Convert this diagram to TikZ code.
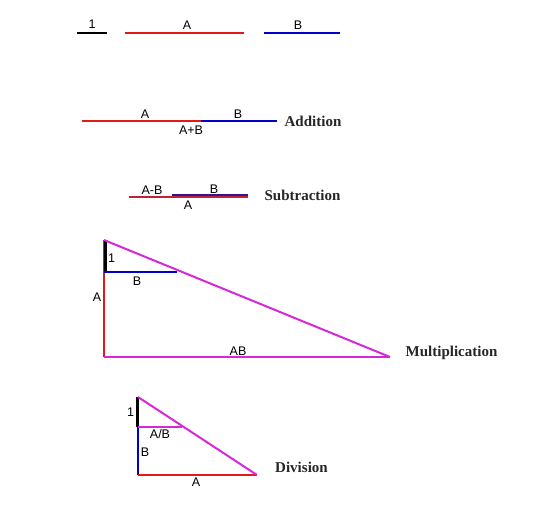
\documentclass[tikz,border=0pt]{standalone}
\usepackage{fontspec}
\setmainfont{Liberation Sans}
\newfontfamily\titlefont{Liberation Serif}
\definecolor{segred}{RGB}{225,25,25}
\definecolor{segblue}{RGB}{0,0,200}
\definecolor{segmag}{RGB}{215,40,215}
\definecolor{subred}{RGB}{190,35,55}
\definecolor{subblue}{RGB}{50,20,140}
\begin{document}
\begin{tikzpicture}[x=1pt,y=-1pt,
  seg/.style={line width=2pt},
  thick1/.style={line width=2.6pt,black},
  lbl/.style={font=\fontsize{12.5}{13}\selectfont,inner sep=0pt},
  ttl/.style={font=\titlefont\bfseries\fontsize{15}{16}\selectfont,inner sep=0pt,text=black!85}]
\useasboundingbox (0,0) rectangle (554,521);
% top row
\coordinate (o1) at (77,33); \coordinate (o2) at (107,33);
\coordinate (a1) at (125,33); \coordinate (a2) at (244,33);
\coordinate (b1) at (264,33); \coordinate (b2) at (340,33);
\draw[seg,black] (o1) -- (o2);
\draw[seg,segred] (a1) -- (a2);
\draw[seg,segblue] (b1) -- (b2);
\node[lbl] (l1) at (92,24) {1};
\node[lbl] (lA) at (187,25) {A};
\node[lbl] (lB) at (298,25) {B};
% addition
\coordinate (ad1) at (82,121); \coordinate (ad2) at (201,121); \coordinate (ad3) at (277,121);
\draw[seg,segred] (ad1) -- (ad2);
\draw[seg,segblue] (ad2) -- (ad3);
\node[lbl] (adA) at (145,114) {A};
\node[lbl] (adB) at (238,114) {B};
\node[lbl] (adAB) at (191,130) {A+B};
\node[ttl] (addt) at (313,121) {Addition};
% subtraction
\coordinate (s1) at (129,197.5); \coordinate (s2) at (248,197.5);
\coordinate (s3) at (172,195.5); \coordinate (s4) at (248,195.5);
\draw[seg,subred] (s1) -- (s2);
\draw[seg,subblue] (s3) -- (s4);
\node[lbl] (sAB) at (152,190) {A-B};
\node[lbl] (sB) at (214,189) {B};
\node[lbl] (sA) at (188,205) {A};
\node[ttl] (subt) at (302.5,195) {Subtraction};
% multiplication
\coordinate (m0) at (104,240); \coordinate (m1) at (104,272);
\coordinate (mb) at (104,357); \coordinate (mr) at (390,357);
\coordinate (mh) at (177,272);
\draw[seg,segred] (m0) -- (mb);
\draw[thick1] ([xshift=1.2pt]m0) -- ([xshift=1.2pt]m1);
\draw[seg,segblue] (m1) -- (mh);
\draw[seg,segmag] (mb) -- (mr);
\draw[seg,segmag] (m0) -- (mr);
\node[lbl] (m1l) at (111.5,258) {1};
\node[lbl] (mBl) at (137,281) {B};
\node[lbl] (mAl) at (97,297) {A};
\node[lbl] (mABl) at (238,351) {AB};
\node[ttl] (mult) at (451.5,353) {Multiplication};
% division
\coordinate (d0) at (138,397); \coordinate (d1) at (138,427);
\coordinate (db) at (138,475); \coordinate (dr) at (257,475);
\coordinate (dh) at (182,427);
\draw[seg,segblue] (d0) -- (db);
\draw[thick1] ([xshift=-0.5pt]d0) -- ([xshift=-0.5pt]d1);
\draw[seg,segmag] (d1) -- (dh);
\draw[seg,segred] (db) -- (dr);
\draw[seg,segmag] (d0) -- (dr);
\node[lbl] (d1l) at (130.5,412) {1};
\node[lbl] (dABl) at (160,434) {A/B};
\node[lbl] (dBl) at (145,452) {B};
\node[lbl] (dAl) at (196,482) {A};
\node[ttl] (divt) at (301.5,467) {Division};
\end{tikzpicture}
\end{document}
